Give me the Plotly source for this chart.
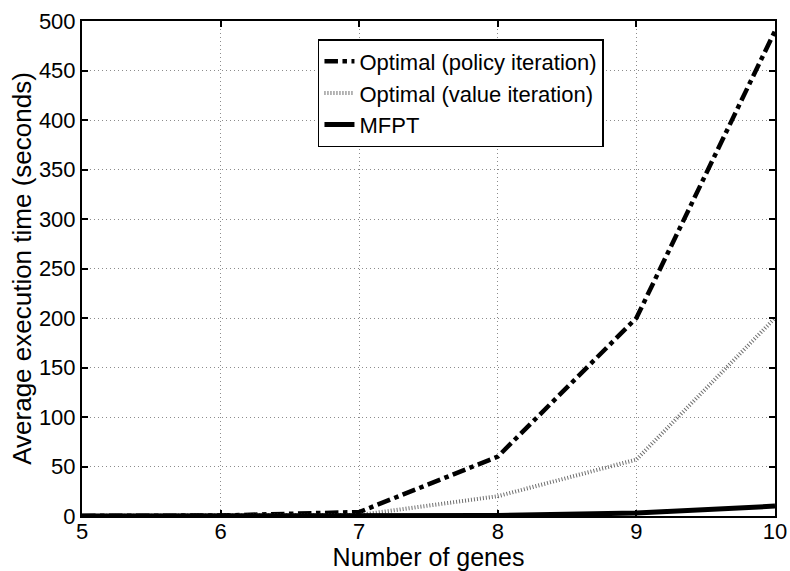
import plotly.graph_objects as go

genes = [5, 6, 7, 8, 9, 10]
policy_iter = [0.1, 0.5, 4, 60, 200, 490]
value_iter = [0.05, 0.2, 1, 20, 57, 200]
mfpt = [0.0, 0.0, 0.05, 0.5, 3, 10]

fig = go.Figure()
fig.add_trace(go.Scatter(x=genes, y=policy_iter, mode="lines", name="Optimal (policy iteration)",
                         line=dict(color="black", width=4.5, dash="dashdot")))
fig.add_trace(go.Scatter(x=genes, y=value_iter, mode="lines", name="Optimal (value iteration)",
                         line=dict(color="#6e6e6e", width=4, dash="1px,2px")))
fig.add_trace(go.Scatter(x=genes, y=mfpt, mode="lines", name="MFPT",
                         line=dict(color="black", width=5)))

font = "Liberation Sans, Arial, sans-serif"
axis_common = dict(showgrid=True, gridcolor="#8c8c8c", griddash="1px,3px", gridwidth=1,
                   showline=True, linecolor="black", linewidth=2,
                   mirror="ticks", ticks="inside", ticklen=6, tickwidth=2, tickcolor="black",
                   zeroline=False, tickfont=dict(size=22), automargin=False)
fig.update_layout(
    width=790, height=571,
    margin=dict(l=82, r=15, t=21, b=55),
    paper_bgcolor="white", plot_bgcolor="white",
    font=dict(family=font, size=22, color="black"),
    showlegend=True,
    legend=dict(x=0.3405, y=0.9636, xanchor="left", yanchor="top",
                bgcolor="white", bordercolor="black", borderwidth=1.5,
                font=dict(size=22, family=font), tracegroupgap=0,
                itemwidth=30),
    xaxis=dict(range=[5, 10], tickvals=genes, ticklabelstandoff=-5,
               title=dict(text="Number of genes", font=dict(size=25)),
               **axis_common),
    yaxis=dict(range=[0, 500], tickvals=list(range(0, 501, 50)),
               title=dict(text="Average execution time (seconds)", font=dict(size=26), standoff=0),
               **axis_common),
)
fig.write_html("out.html")
